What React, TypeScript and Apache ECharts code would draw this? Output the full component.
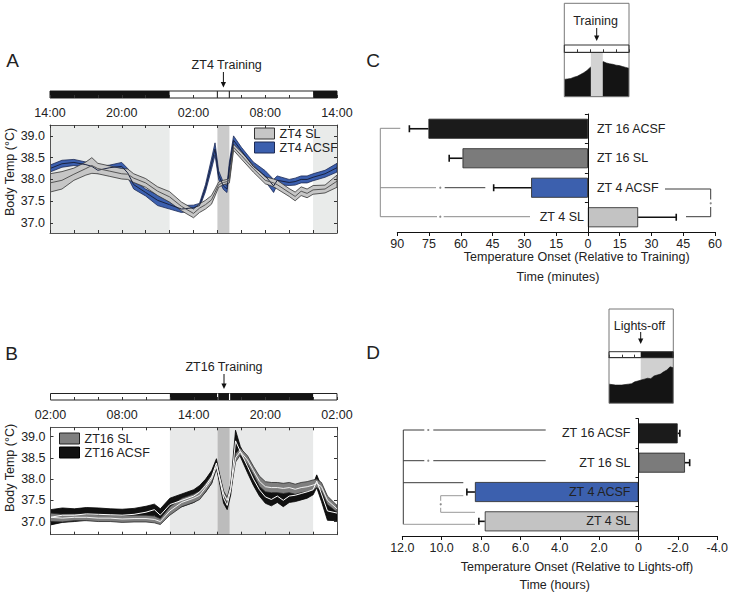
import React, { useEffect, useRef } from 'react';
import * as echarts from 'echarts';

const FONT = '"Liberation Sans", Arial, Helvetica, sans-serif';

// ---------- Panel A (hours after 14:00) ----------
const hoursA = [0, 1, 2, 3, 3.5, 4, 5, 6, 6.5, 7, 8, 9, 10, 11, 12, 12.5, 13, 13.5, 13.8, 14.1, 14.5, 14.8, 15, 15.35, 16, 17, 18, 18.7, 19, 20, 20.5, 21, 21.5, 22, 23, 24];
const slMeanA = [37.92, 37.98, 38.12, 38.25, 38.32, 38.25, 38.19, 38.13, 38.12, 38.03, 37.92, 37.73, 37.6, 37.38, 37.22, 37.34, 37.42, 37.53, 37.7, 37.88, 37.93, 37.95, 37.98, 38.74, 38.55, 38.25, 37.98, 37.92, 37.88, 37.7, 37.61, 37.73, 37.68, 37.76, 37.78, 37.96];
const slSemA = [0.21, 0.2, 0.14, 0.15, 0.18, 0.12, 0.12, 0.12, 0.12, 0.1, 0.1, 0.1, 0.12, 0.1, 0.1, 0.1, 0.1, 0.1, 0.08, 0.06, 0.05, 0.05, 0.06, 0.07, 0.08, 0.08, 0.08, 0.09, 0.1, 0.09, 0.1, 0.1, 0.1, 0.1, 0.09, 0.14];
const acsfMeanA = [38.25, 38.36, 38.39, 38.34, 38.3, 38.21, 38.27, 38.3, 38.15, 37.88, 37.7, 37.52, 37.42, 37.32, 37.35, 37.4, 37.8, 38.35, 38.7, 38.1, 37.85, 37.78, 38.3, 38.9, 38.66, 38.3, 38.08, 37.85, 37.98, 37.93, 37.95, 38.0, 38.0, 38.05, 38.13, 38.27];
const acsfSemA = [0.08, 0.08, 0.07, 0.06, 0.06, 0.08, 0.06, 0.09, 0.1, 0.1, 0.08, 0.12, 0.1, 0.08, 0.06, 0.05, 0.08, 0.12, 0.14, 0.1, 0.08, 0.08, 0.1, 0.1, 0.08, 0.1, 0.12, 0.15, 0.1, 0.07, 0.08, 0.08, 0.08, 0.08, 0.08, 0.1];
const darkPeriodsA = [[0, 10], [22, 24]];
const trainingA = [[14, 15]];

// ---------- Panel B (hours after 02:00) ----------
const hoursB = [0, 1, 2, 3, 4, 5, 6, 7, 8, 8.7, 9.2, 10, 11, 12, 12.5, 13, 13.5, 13.9, 14.2, 14.5, 14.8, 15.1, 15.5, 15.9, 16.5, 17, 17.5, 18, 18.5, 19, 19.5, 20, 20.5, 21, 21.5, 22, 22.3, 22.7, 23.2, 24];
const slMeanB = [37.1, 37.08, 37.1, 37.1, 37.08, 37.08, 37.06, 37.07, 37.07, 37.05, 37.0, 37.25, 37.45, 37.55, 37.62, 37.8, 38.0, 38.3, 38.0, 37.65, 37.5, 37.8, 38.5, 38.65, 38.45, 38.2, 37.95, 37.82, 37.8, 37.8, 37.78, 37.8, 37.76, 37.8, 37.82, 37.86, 37.9, 37.82, 37.5, 37.3];
const slSemB = [0.1, 0.09, 0.08, 0.08, 0.08, 0.08, 0.08, 0.08, 0.08, 0.08, 0.07, 0.1, 0.1, 0.1, 0.1, 0.1, 0.1, 0.07, 0.07, 0.07, 0.07, 0.08, 0.1, 0.08, 0.1, 0.1, 0.12, 0.12, 0.12, 0.12, 0.12, 0.12, 0.12, 0.12, 0.12, 0.12, 0.1, 0.1, 0.1, 0.08];
const acsfMeanB = [37.1, 37.15, 37.15, 37.18, 37.17, 37.16, 37.15, 37.17, 37.22, 37.28, 37.15, 37.4, 37.5, 37.6, 37.7, 37.85, 38.05, 38.38, 37.95, 37.55, 37.38, 37.75, 38.9, 38.65, 38.3, 38.0, 37.75, 37.58, 37.52, 37.6, 37.5, 37.6, 37.62, 37.66, 37.7, 37.75, 37.95, 37.65, 37.25, 37.2];
const acsfSemB = [0.18, 0.17, 0.15, 0.15, 0.15, 0.14, 0.14, 0.14, 0.14, 0.13, 0.15, 0.15, 0.15, 0.15, 0.15, 0.15, 0.15, 0.1, 0.1, 0.12, 0.1, 0.12, 0.25, 0.12, 0.15, 0.15, 0.15, 0.15, 0.15, 0.15, 0.15, 0.15, 0.15, 0.15, 0.15, 0.12, 0.15, 0.18, 0.22, 0.18];
const darkPeriodsB = [[10, 22]];
const trainingB = [[14, 15]];

const tempTicks = [37.0, 37.5, 38.0, 38.5, 39.0];

// ---------- Panel C (minutes, relative to training) ----------
const groups = ['ZT 4 SL', 'ZT 4 ACSF', 'ZT 16 SL', 'ZT 16 ACSF'];
const groupColors = ['#c3c3c3', '#3c60ae', '#7b7b7b', '#1b1b1b'];
const onsetC = [-23.7, 26.8, 59.2, 75.3];
const semC = [18.0, 17.7, 6.3, 9.0];

// ---------- Panel D (hours, relative to lights-off) ----------
const onsetD = [7.81, 8.31, -2.36, -1.99];
const semD = [0.3, 0.41, 0.24, 0.11];

// ---------- Insets ----------
const insetCx = [0, 1, 2, 3, 4, 5, 6, 7, 8, 10, 12, 13, 14, 15, 16, 17, 18, 19, 20];
const insetCy = [3.9, 4.0, 4.1, 4.4, 4.6, 5.0, 5.4, 5.9, 6.6, 7.2, 7.9, 7.6, 7.4, 7.3, 7.1, 7.0, 6.8, 6.6, 6.4];
const insetCTraining = [[8.2, 11.9]];
const insetDx = [0, 1, 2, 3, 4, 5, 6, 7, 8, 9, 10, 11, 12, 13, 14, 15, 16, 17, 18, 19, 20];
const insetDy = [4.2, 4.1, 4.0, 4.0, 4.0, 4.1, 4.2, 4.3, 4.7, 4.9, 5.1, 5.3, 5.5, 5.4, 6.0, 6.2, 6.4, 6.9, 7.3, 8.0, 7.8];
const insetDDark = [[9.86, 20]];

const TXT = '#222';

const clock = (start: number) => (v: number) => `${String((start + v) % 24).padStart(2, '0')}:00`;

function shade(spans: number[][], xi: number, yi: number, color: string, z: number) {
  return {
    type: 'custom', xAxisIndex: xi, yAxisIndex: yi, z, silent: true,
    data: spans,
    renderItem: (params: any, api: any) => {
      const cs = params.coordSys;
      const x1 = api.coord([api.value(0), 0])[0];
      const x2 = api.coord([api.value(1), 0])[0];
      return { type: 'rect', shape: { x: Math.min(x1, x2), y: cs.y, width: Math.abs(x2 - x1), height: cs.height }, style: { fill: color } };
    },
  };
}

function vlines(xs: number[], xi: number, yi: number, color: string, z: number) {
  return {
    type: 'custom', xAxisIndex: xi, yAxisIndex: yi, z, silent: true,
    data: xs.map((x) => [x, 0]),
    renderItem: (params: any, api: any) => {
      const cs = params.coordSys;
      const x = api.coord([api.value(0), 0])[0];
      return { type: 'line', shape: { x1: x, y1: cs.y, x2: x, y2: cs.y + cs.height }, style: { stroke: color, lineWidth: 1.2 } };
    },
  };
}

function band(name: string, t: number[], mean: number[], sem: number[], xi: number, yi: number, fill: string, stroke: string, z: number) {
  return {
    type: 'custom', name, xAxisIndex: xi, yAxisIndex: yi, z, clip: true, silent: true,
    itemStyle: { color: fill, borderColor: stroke },
    data: [[t[0], mean[0]]],
    renderItem: (params: any, api: any) => {
      const up = t.map((x, i) => api.coord([x, mean[i] + sem[i]]));
      const lo = t.map((x, i) => api.coord([x, mean[i] - sem[i]])).reverse();
      return { type: 'polygon', shape: { points: up.concat(lo) }, style: { fill, stroke, lineWidth: 0.8 } };
    },
  };
}

function meanLine(name: string, t: number[], mean: number[], xi: number, yi: number, color: string, z: number) {
  return {
    type: 'line', name, xAxisIndex: xi, yAxisIndex: yi, z, silent: true,
    showSymbol: false, symbol: 'none',
    data: t.map((x, i) => [x, mean[i]]),
    lineStyle: { color, width: 1 },
  };
}

function errorBars(onset: number[], sem: number[], xi: number, yi: number) {
  return {
    type: 'custom', xAxisIndex: xi, yAxisIndex: yi, z: 4, silent: true,
    encode: { x: [0, 2], y: 1 },
    data: onset.map((v, i) => [v, i, v + Math.sign(v) * sem[i]]),
    renderItem: (params: any, api: any) => {
      const a = api.coord([api.value(0), api.value(1)]);
      const b = api.coord([api.value(2), api.value(1)]);
      const st = { stroke: '#111', lineWidth: 1.6 };
      return {
        type: 'group', children: [
          { type: 'line', shape: { x1: a[0], y1: a[1], x2: b[0], y2: b[1] }, style: st },
          { type: 'line', shape: { x1: b[0], y1: b[1] - 3.5, x2: b[0], y2: b[1] + 3.5 }, style: st },
        ],
      };
    },
  };
}

function bars(onset: number[], xi: number, yi: number, labelPos: string[], labelDist: number[]) {
  return {
    type: 'bar', xAxisIndex: xi, yAxisIndex: yi, z: 3, barWidth: 20, silent: true,
    data: onset.map((v, i) => ({
      value: v,
      itemStyle: { color: groupColors[i], borderColor: '#222', borderWidth: 0.8 },
      label: { show: true, position: labelPos[i], distance: labelDist[i], formatter: groups[i], fontSize: 12.5, color: TXT, fontFamily: FONT },
    })),
  };
}

const hourX = (grid: number, pos: string, start: number, labels: boolean, lineOn: boolean) => ({
  gridIndex: grid, type: 'value', min: 0, max: 24, interval: 6, position: pos, z: 5,
  axisLine: { show: lineOn, onZero: false, lineStyle: { color: '#555', width: 1 } },
  axisTick: { show: true, inside: true, length: 3, lineStyle: { color: '#333' } },
  minorTick: { show: true, splitNumber: 3, length: 3, lineStyle: { color: '#333' } },
  splitLine: { show: false }, minorSplitLine: { show: false },
  axisLabel: { show: labels, formatter: clock(start), fontSize: 12.5, color: TXT, margin: 8, fontFamily: FONT },
});

const tempY = (grid: number, pos: string, labels: boolean, min: number, max: number) => ({
  gridIndex: grid, type: 'value', min, max, position: pos, z: 5,
  axisLine: { show: true, onZero: false, lineStyle: { color: '#555', width: 1 } },
  axisTick: { show: true, inside: true, length: 3, customValues: tempTicks, lineStyle: { color: '#333' } },
  axisLabel: { show: labels, customValues: tempTicks, formatter: (v: number) => v.toFixed(1), fontSize: 12.5, color: TXT, margin: 5, fontFamily: FONT },
  splitLine: { show: false },
});

const hiddenY = (grid: number, min: number, max: number) => ({ gridIndex: grid, type: 'value', min, max, show: false });

const barX = (grid: number, min: number, max: number, interval: number, fmt: (v: number) => string) => ({
  gridIndex: grid, type: 'value', min, max, interval, inverse: true,
  axisLine: { show: true, onZero: false, lineStyle: { color: '#111', width: 1 } },
  axisTick: { show: true, length: 4, lineStyle: { color: '#111' } },
  axisLabel: { formatter: fmt, fontSize: 12.5, color: TXT, margin: 5, fontFamily: FONT },
  splitLine: { show: false },
});

const catY = (grid: number) => ({
  gridIndex: grid, type: 'category', data: groups, z: 5,
  axisLine: { show: true, onZero: true, lineStyle: { color: '#111', width: 1 } },
  axisTick: { show: true, length: 3, lineStyle: { color: '#111' } },
  axisLabel: { show: false },
});

const insetX = (grid: number) => ({
  gridIndex: grid, type: 'value', min: 0, max: 20, interval: 4, position: 'top', z: 5,
  axisLine: { show: true, onZero: false, lineStyle: { color: '#333', width: 1 } },
  axisTick: { show: true, inside: false, length: 3, lineStyle: { color: '#333' } },
  axisLabel: { show: false }, splitLine: { show: false },
});

const txt = (text: string, x: number, y: number, size = 12.5, extra: any = {}) => ({
  type: 'text', x, y, z: 20, ...extra,
  style: { text, fontSize: size, fontFamily: FONT, fill: TXT, align: 'center', verticalAlign: 'middle' },
});

const arrow = (x: number, y1: number, y2: number) => [
  { type: 'line', z: 20, shape: { x1: x, y1, x2: x, y2: y2 - 4 }, style: { stroke: '#111', lineWidth: 1 } },
  { type: 'polygon', z: 20, shape: { points: [[x - 2.6, y2 - 5.5], [x + 2.6, y2 - 5.5], [x, y2]] }, style: { fill: '#111' } },
];

const seg = (pts: number[][], color: string) => ({
  type: 'polyline', z: 20, shape: { points: pts }, style: { stroke: color, lineWidth: 1, fill: 'none' },
});
const dot = (x: number, y: number, color: string) => ({
  type: 'circle', z: 20, shape: { cx: x, cy: y, r: 1.1 }, style: { fill: color },
});

function buildOption() {
  const BR = '#8a8a8a';
  const DK = '#3a3a3a';
  return {
    animation: false,
    textStyle: { fontFamily: FONT },
    grid: [
      { left: 50, top: 91, width: 287, height: 7, show: true, borderColor: '#222', borderWidth: 1, backgroundColor: '#fff' },
      { left: 50, top: 125, width: 287, height: 108 },
      { left: 50.5, top: 393.5, width: 286.5, height: 6.5, show: true, borderColor: '#222', borderWidth: 1, backgroundColor: '#fff' },
      { left: 50.5, top: 427.3, width: 286.5, height: 107.4 },
      { left: 397.3, top: 114, width: 317.7, height: 118 },
      { left: 564.3, top: 52.3, width: 64.7, height: 44.4 },
      { left: 402.3, top: 418.7, width: 317, height: 117.3 },
      { left: 609, top: 357.7, width: 64.3, height: 45.6 },
    ],
    xAxis: [
      hourX(0, 'bottom', 14, true, false),
      hourX(1, 'bottom', 14, false, true),
      hourX(1, 'top', 14, false, true),
      hourX(2, 'bottom', 2, true, false),
      hourX(3, 'bottom', 2, false, true),
      hourX(3, 'top', 2, false, true),
      barX(4, -60, 90, 15, (v: number) => String(Math.abs(v))),
      insetX(5),
      barX(6, -4, 12, 2, (v: number) => (v === 0 ? '0' : v.toFixed(1))),
      insetX(7),
    ],
    yAxis: [
      hiddenY(0, 0, 1),
      tempY(1, 'left', true, 36.77, 39.25),
      tempY(1, 'right', false, 36.77, 39.25),
      hiddenY(2, 0, 1),
      tempY(3, 'left', true, 36.69, 39.22),
      tempY(3, 'right', false, 36.69, 39.22),
      catY(4),
      hiddenY(5, 0, 10),
      catY(6),
      hiddenY(7, 0, 10),
    ],
    legend: [
      {
        left: 254, top: 127, orient: 'vertical', padding: 0, itemGap: 1, itemWidth: 20, itemHeight: 11, selectedMode: false,
        textStyle: { fontSize: 12.5, color: TXT, fontFamily: FONT },
        data: [
          { name: 'ZT4 SL', icon: 'rect', itemStyle: { color: '#c6c6c6', borderColor: '#333', borderWidth: 1 } },
          { name: 'ZT4 ACSF', icon: 'rect', itemStyle: { color: '#3b5fae', borderColor: '#1c2a55', borderWidth: 1 } },
        ],
      },
      {
        left: 59, top: 432, orient: 'vertical', padding: 0, itemGap: 1, itemWidth: 20, itemHeight: 11, selectedMode: false,
        textStyle: { fontSize: 12.5, color: TXT, fontFamily: FONT },
        data: [
          { name: 'ZT16 SL', icon: 'rect', itemStyle: { color: '#7f7f7f', borderColor: '#222', borderWidth: 1 } },
          { name: 'ZT16 ACSF', icon: 'rect', itemStyle: { color: '#111', borderColor: '#000', borderWidth: 1 } },
        ],
      },
    ],
    series: [
      // A top bar
      shade(darkPeriodsA, 0, 0, '#141414', 1),
      vlines(trainingA[0], 0, 0, '#333', 2),
      // A main
      shade(darkPeriodsA, 1, 1, '#e9ebea', 1),
      shade(trainingA, 1, 1, '#cbcbcb', 1),
      band('ZT4 ACSF', hoursA, acsfMeanA, acsfSemA, 1, 1, '#3b5fae', '#1c2a55', 2),
      band('ZT4 SL', hoursA, slMeanA, slSemA, 1, 1, '#c6c6c6', '#333', 3),
      meanLine('ZT4 ACSF mean', hoursA, acsfMeanA, 1, 1, '#1a2340', 4),
      meanLine('ZT4 SL mean', hoursA, slMeanA, 1, 1, '#555', 4),
      // B top bar
      shade(darkPeriodsB, 3, 3, '#141414', 1),
      vlines(trainingB[0], 3, 3, '#fff', 2),
      // B main
      shade(darkPeriodsB, 4, 4, '#e8e9e9', 1),
      shade(trainingB, 4, 4, '#bcbcbc', 1),
      band('ZT16 ACSF', hoursB, acsfMeanB, acsfSemB, 4, 4, '#111', '#000', 2),
      band('ZT16 SL', hoursB, slMeanB, slSemB, 4, 4, '#7f7f7f', '#2a2a2a', 3),
      meanLine('ZT16 ACSF mean', hoursB, acsfMeanB, 4, 4, '#fff', 4),
      meanLine('ZT16 SL mean', hoursB, slMeanB, 4, 4, '#f2f2f2', 4),
      // C
      bars(onsetC, 6, 6, ['left', 'right', 'right', 'right'], [4, 9, 9, 9]),
      errorBars(onsetC, semC, 6, 6),
      // C inset
      {
        type: 'line', xAxisIndex: 7, yAxisIndex: 7, z: 2, silent: true, showSymbol: false, symbol: 'none',
        data: insetCx.map((x, i) => [x, insetCy[i]]),
        lineStyle: { color: '#111', width: 0.6 }, areaStyle: { color: '#141414', opacity: 1 },
      },
      shade(insetCTraining, 7, 7, '#d3d3d3', 3),
      // D
      bars(onsetD, 8, 8, ['insideRight', 'insideRight', 'left', 'left'], [8, 8, 8, 8]),
      errorBars(onsetD, semD, 8, 8),
      // D inset
      shade(insetDDark, 9, 9, '#d0d0d0', 1),
      {
        type: 'line', xAxisIndex: 9, yAxisIndex: 9, z: 2, silent: true, showSymbol: false, symbol: 'none',
        data: insetDx.map((x, i) => [x, insetDy[i]]),
        lineStyle: { color: '#111', width: 0.6 }, areaStyle: { color: '#141414', opacity: 1 },
      },
    ],
    graphic: {
      elements: [
        txt('A', 12.7, 60.5, 19),
        txt('B', 11.5, 353, 19),
        txt('C', 373, 60, 19),
        txt('D', 373, 352, 19),
        txt('Body Temp (°C)', 9.5, 172, 12.5, { rotation: Math.PI / 2 }),
        txt('Body Temp (°C)', 9.5, 468, 12.5, { rotation: Math.PI / 2 }),
        txt('ZT4 Training', 226.7, 65),
        ...arrow(223.4, 72, 87.5),
        txt('ZT16 Training', 224, 366.7),
        ...arrow(224, 374, 389),
        txt('Temperature Onset (Relative to Training)', 576.7, 257.3),
        txt('Time (minutes)', 558, 277.3),
        txt('Temperature Onset (Relative to Lights-off)', 577, 566.5),
        txt('Time (hours)', 554.7, 584.5),
        // inset C
        { type: 'rect', z: 20, shape: { x: 564.3, y: 3.3, width: 64.7, height: 93.4 }, style: { fill: 'none', stroke: '#777', lineWidth: 1 } },
        { type: 'rect', z: 20, shape: { x: 564.3, y: 45, width: 64.7, height: 7.3 }, style: { fill: 'none', stroke: '#333', lineWidth: 1 } },
        txt('Training', 595.5, 21),
        ...arrow(596.7, 28, 41),
        // inset D
        { type: 'rect', z: 20, shape: { x: 609, y: 309, width: 64.3, height: 94.3 }, style: { fill: 'none', stroke: '#777', lineWidth: 1 } },
        { type: 'rect', z: 19, shape: { x: 640.7, y: 351.7, width: 32.6, height: 6 }, style: { fill: '#141414' } },
        { type: 'rect', z: 20, shape: { x: 609, y: 351.7, width: 64.3, height: 6 }, style: { fill: 'none', stroke: '#333', lineWidth: 1 } },
        txt('Lights-off', 639.3, 326),
        ...arrow(640.7, 332, 344),
        // C brackets
        seg([[400.3, 128.3], [380.3, 128.3], [380.3, 216.7], [437, 216.7]], BR),
        seg([[443.7, 216.7], [530, 216.7]], BR),
        seg([[380.3, 187.7], [436, 187.7]], BR),
        seg([[444.7, 187.7], [485.3, 187.7]], DK),
        dot(440.3, 187.7, BR),
        dot(440.3, 216.7, BR),
        seg([[665, 189], [710.7, 189], [710.7, 199.5]], DK),
        seg([[710.7, 207], [710.7, 216.7], [686, 216.7]], DK),
        dot(710.7, 203.3, BR),
        // D brackets
        seg([[424.3, 430], [403.3, 430], [403.3, 524.3]], DK),
        seg([[433.3, 430], [545.7, 430]], DK),
        seg([[403.3, 460.7], [424.3, 460.7]], DK),
        seg([[433.3, 460.7], [545.7, 460.7]], DK),
        seg([[403.3, 482.7], [463.3, 482.7]], DK),
        seg([[403.3, 524.3], [475, 524.3]], '#999'),
        dot(428.3, 430, BR),
        dot(428.3, 460.7, BR),
        seg([[463.3, 495.7], [440.7, 495.7], [440.7, 500.8]], '#999'),
        seg([[440.7, 507.8], [440.7, 512.3], [475, 512.3]], '#999'),
        dot(440.7, 504.3, BR),
      ],
    },
  };
}

export default function App() {
  const ref = useRef<HTMLDivElement>(null);
  useEffect(() => {
    if (!ref.current) return;
    const chart = echarts.init(ref.current, undefined, { renderer: 'svg' });
    chart.setOption(buildOption() as any);
    return () => chart.dispose();
  }, []);
  return <div ref={ref} style={{ width: 731, height: 592, position: 'absolute', left: 0, top: 0, background: '#fff' }} />;
}
